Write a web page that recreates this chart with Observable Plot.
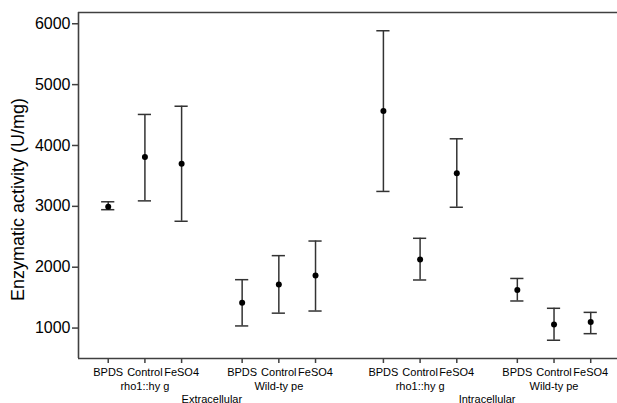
<!DOCTYPE html>
<html><head><meta charset="utf-8">
<script src="https://cdn.jsdelivr.net/npm/d3@7"></script>
<script src="https://cdn.jsdelivr.net/npm/@observablehq/plot@0.6"></script>
<style>body{margin:0;background:#fff} svg{display:block;overflow:visible}</style>
</head><body><div id="chart"></div>
<script>
const locations = ["Extracellular", "Intracellular"];
const strains = ["rho1::hy g", "Wild-ty pe"];
const treatments = ["BPDS", "Control", "FeSO4"];
// order: location > strain > treatment
const means = [2995, 3810, 3700, 1415, 1715, 1865, 4565, 2125, 3545, 1625, 1060, 1100];
const lows  = [2945, 3090, 2755, 1035, 1245, 1280, 3245, 1790, 2985, 1445, 800, 908];
const highs = [3075, 4510, 4645, 1795, 2190, 2430, 5885, 2475, 4110, 1815, 1325, 1258];
const yTicks = [1000, 2000, 3000, 4000, 5000, 6000];
const yTitle = "Enzymatic activity (U/mg)";

// layout (slot positions derived from category indices)
const LOC_STEP = 7.5, STRAIN_STEP = 3.65, CAP = 0.18;
const xDomain = [-0.81, 13.88];
const yDomain = [500, 6185];

const rows = [];
const strainRows = [];
const locRows = [];
locations.forEach((loc, li) => {
  const lp = [];
  strains.forEach((st, si) => {
    const sp = [];
    treatments.forEach((tr, ti) => {
      const i = li * 6 + si * 3 + ti;
      const pos = li * LOC_STEP + si * STRAIN_STEP + ti;
      rows.push({loc, st, tr, pos, mean: means[i], low: lows[i], high: highs[i]});
      sp.push(pos); lp.push(pos);
    });
    strainRows.push({label: st, pos: d3.mean(sp)});
  });
  locRows.push({label: loc, pos: d3.mean(lp)});
});
const tickLabel = new Map(rows.map(d => [d.pos, d.tr]));

const lineColor = "#404040";
const plot = Plot.plot({
  width: 617, height: 403,
  marginLeft: 78, marginRight: 0, marginTop: 12, marginBottom: 45,
  style: {fontFamily: "'Liberation Sans', Arial, Helvetica, sans-serif", color: "#000", background: "#fff", overflow: "visible"},
  x: {domain: xDomain, axis: null},
  y: {domain: yDomain, axis: null},
  marks: [
    Plot.ruleY([yDomain[1]], {stroke: lineColor, strokeWidth: 1.6}),
    Plot.ruleY([yDomain[0]], {stroke: lineColor, strokeWidth: 1.6}),
    Plot.ruleX([xDomain[0]], {stroke: lineColor, strokeWidth: 1.6}),
    Plot.axisY({ticks: yTicks, tickFormat: d3.format("d"), tickSize: 6, tickPadding: 2, fontSize: 16, stroke: lineColor, strokeWidth: 1.5, label: null}),
    Plot.axisX({ticks: rows.map(d => d.pos), tickFormat: p => tickLabel.get(p), tickSize: 5, tickPadding: 5, fontSize: 11, stroke: lineColor, strokeWidth: 1.5, label: null}),
    Plot.text(strainRows, {x: "pos", text: "label", frameAnchor: "bottom", dy: 31.5, fontSize: 11}),
    Plot.text(locRows, {x: "pos", text: "label", frameAnchor: "bottom", dy: 44, fontSize: 11}),
    Plot.text([yTitle], {text: d => d, frameAnchor: "left", rotate: -90, textAnchor: "middle", dx: -60, dy: 14, fontSize: 18}),
    Plot.ruleX(rows, {x: "pos", y1: "low", y2: "high", stroke: "#333", strokeWidth: 1.5}),
    Plot.ruleY(rows, {x1: d => d.pos - CAP, x2: d => d.pos + CAP, y: "low", stroke: "#333", strokeWidth: 1.5}),
    Plot.ruleY(rows, {x1: d => d.pos - CAP, x2: d => d.pos + CAP, y: "high", stroke: "#333", strokeWidth: 1.5}),
    Plot.dot(rows, {x: "pos", y: "mean", r: 3, fill: "#000"})
  ]
});
document.getElementById("chart").appendChild(plot);
</script>
</body></html>
